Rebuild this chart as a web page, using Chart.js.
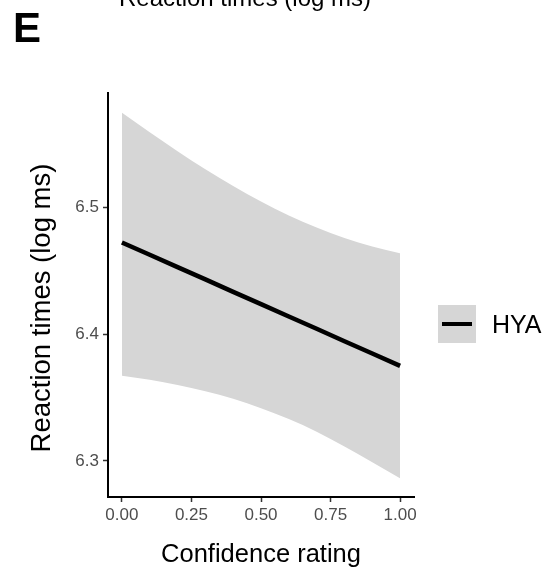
<!DOCTYPE html>
<html>
<head>
<meta charset="utf-8">
<script src="https://cdn.jsdelivr.net/npm/chart.js@4"></script>
<style>
    body { margin: 0; background: #fff; }
    #wrap { position: relative; width: 556px; height: 574px; }
</style>
</head>
<body>
<div id="wrap"><canvas id="doThi" width="556" height="574"></canvas></div>
<script>
// du lieu doc tu hinh
var _xConf = [0, 0.1, 0.2, 0.3, 0.4, 0.5, 0.6, 0.7, 0.8, 0.9, 1.0];
var _fitHYA = [6.4725, 6.4628, 6.4530, 6.4433, 6.4335, 6.4238, 6.4140, 6.4043, 6.3945, 6.3848, 6.3750];
var _upperHYA = [6.5750, 6.5595, 6.5445, 6.5303, 6.5170, 6.5048, 6.4938, 6.4842, 6.4760, 6.4693, 6.4640];
var _lowerHYA = [6.3672, 6.3640, 6.3600, 6.3550, 6.3490, 6.3416, 6.3330, 6.3230, 6.3113, 6.2990, 6.2862];
var _xTicks = [0, 0.25, 0.5, 0.75, 1];
var _yTicks = [6.3, 6.4, 6.5];
var _seriesName = 'HYA';

var FONT = "'Liberation Sans', Arial, Helvetica, sans-serif";
var RIBBON = '#d6d6d6';

function toPoints(values) {
    return _xConf.map(function (x, i) {
        return { x: x, y: values[i] };
    });
}

// chu "E", tieu de bi cat, tieu de truc y va chu thich ben phai
var extraText = {
    id: 'extraText',
    afterDraw: function (chart) {
        var ctx = chart.ctx;
        ctx.save();
        ctx.fillStyle = '#000';
        ctx.textAlign = 'left';
        ctx.textBaseline = 'alphabetic';
        ctx.font = 'bold 42px ' + FONT;
        ctx.fillText('E', 13, 42);

        ctx.font = '24px ' + FONT;
        ctx.textAlign = 'center';
        ctx.fillText('Reaction times (log ms)', 245, 6);

        // tieu de truc y (xoay)
        ctx.save();
        ctx.translate(50, 308);
        ctx.rotate(-Math.PI / 2);
        ctx.font = '27.5px ' + FONT;
        ctx.textAlign = 'center';
        ctx.textBaseline = 'alphabetic';
        ctx.fillText('Reaction times (log ms)', 0, 0);
        ctx.restore();

        // legend key
        ctx.fillStyle = RIBBON;
        ctx.fillRect(438, 305, 38, 38);
        ctx.strokeStyle = '#000';
        ctx.lineWidth = 4;
        ctx.beginPath();
        ctx.moveTo(442, 324);
        ctx.lineTo(472, 324);
        ctx.stroke();
        ctx.fillStyle = '#000';
        ctx.textAlign = 'left';
        ctx.textBaseline = 'middle';
        ctx.font = '25px ' + FONT;
        ctx.fillText(_seriesName, 492, 326);
        ctx.restore();
    }
};

var ctx = document.getElementById('doThi').getContext('2d');
var _myChart = new Chart(ctx, {
    type: 'line',
    data: {
        datasets: [{
            label: _seriesName,
            data: toPoints(_fitHYA),
            borderColor: '#000',
            borderWidth: 4.5,
            pointRadius: 0,
            fill: false
        }, {
            label: 'upper',
            data: toPoints(_upperHYA),
            borderWidth: 0,
            borderColor: 'rgba(0,0,0,0)',
            backgroundColor: RIBBON,
            pointRadius: 0,
            cubicInterpolationMode: 'monotone',
            fill: '+1'
        }, {
            label: 'lower',
            data: toPoints(_lowerHYA),
            borderWidth: 0,
            borderColor: 'rgba(0,0,0,0)',
            pointRadius: 0,
            cubicInterpolationMode: 'monotone',
            fill: false
        }]
    },
    options: {
        responsive: false,
        animation: false,
        layout: { padding: { left: 0, top: 93, right: 142, bottom: 0 } },
        plugins: {
            legend: { display: false },
            tooltip: { enabled: false }
        },
        scales: {
            x: {
                type: 'linear',
                min: -0.05,
                max: 1.05,
                afterBuildTicks: function (scale) {
                    scale.ticks = _xTicks.map(function (v) { return { value: v }; });
                },
                afterFit: function (scale) { scale.height = 77; },
                border: { display: true, color: '#000', width: 2 },
                grid: { drawOnChartArea: false, drawTicks: true, tickLength: 5, tickColor: '#333', tickWidth: 1.5 },
                ticks: {
                    color: '#4d4d4d',
                    font: { family: FONT, size: 17 },
                    padding: 3,
                    maxRotation: 0,
                    callback: function (value) { return value.toFixed(2); }
                },
                title: {
                    display: true,
                    text: 'Confidence rating',
                    color: '#000',
                    font: { family: FONT, size: 25.5 },
                    padding: { top: 0, bottom: 4 }
                }
            },
            y: {
                type: 'linear',
                min: 6.2715,
                max: 6.5905,
                afterBuildTicks: function (scale) {
                    scale.ticks = _yTicks.map(function (v) { return { value: v }; });
                },
                afterFit: function (scale) { scale.width = 108; },
                border: { display: true, color: '#000', width: 2 },
                grid: { drawOnChartArea: false, drawTicks: true, tickLength: 5, tickColor: '#333', tickWidth: 1.5 },
                ticks: {
                    color: '#4d4d4d',
                    font: { family: FONT, size: 17 },
                    padding: 4,
                    callback: function (value) { return value.toFixed(1); }
                },
                title: { display: false }
            }
        }
    },
    plugins: [extraText]
});
</script>
</body>
</html>
